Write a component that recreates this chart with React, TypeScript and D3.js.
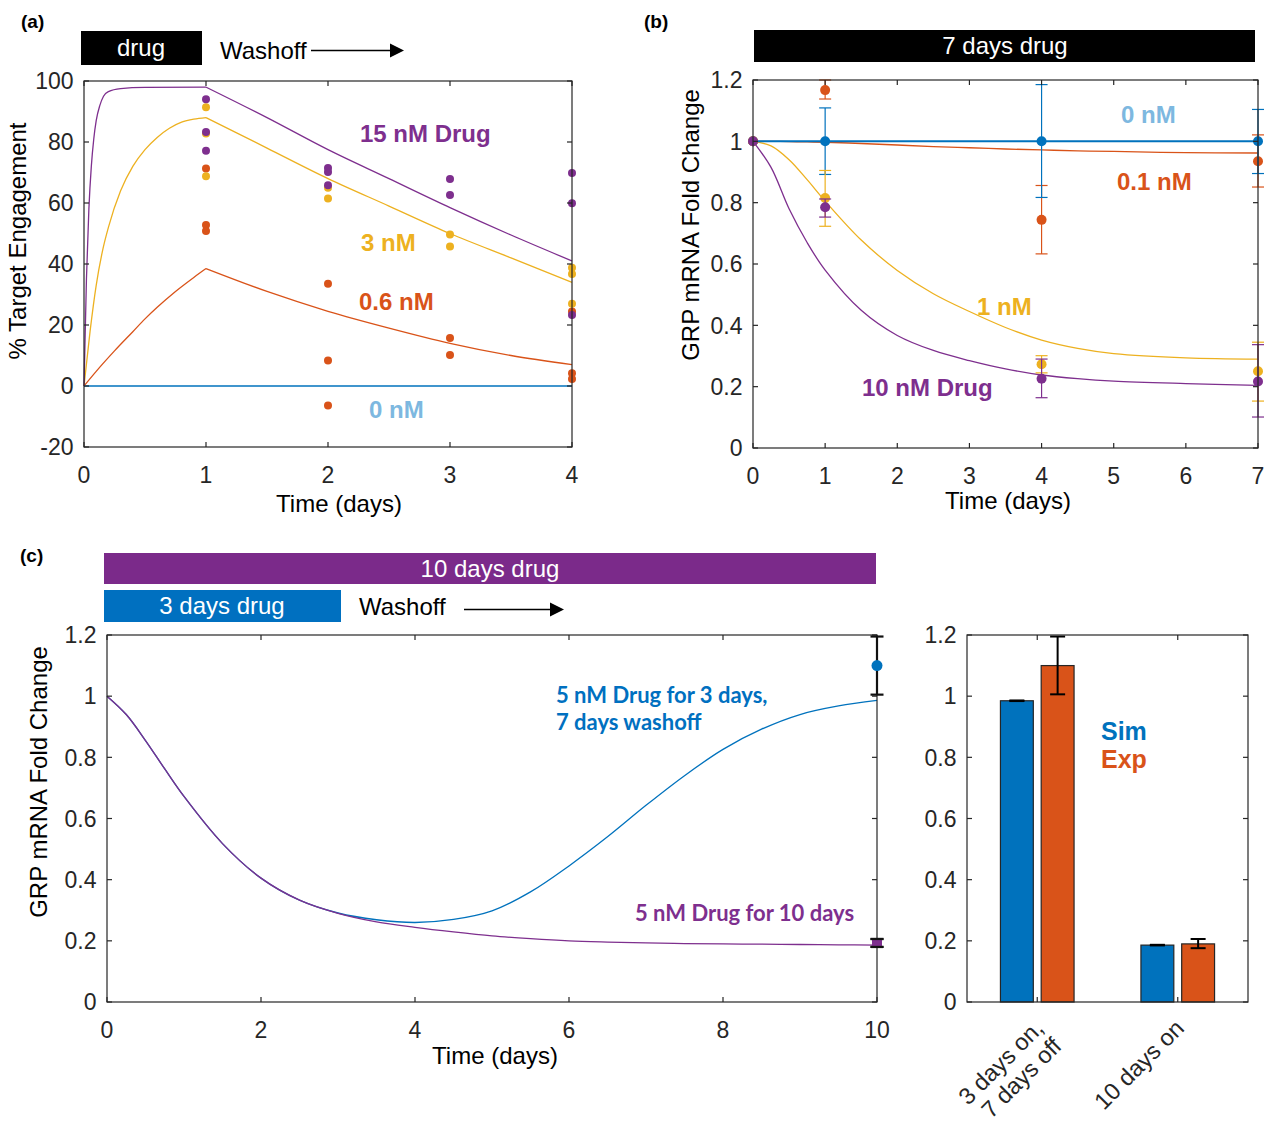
import React from 'react';
import * as d3 from 'd3';

const BLUE = '#0072BD';
const ORANGE = '#D95319';
const YELLOW = '#EDB120';
const PURPLE = '#7E2F8E';
const LIGHTBLUE = '#7DB8E0';
const BAR_PURPLE = '#7B2A8A';
const BAR_BLUE = '#0070C0';
const AX = '#262626';
const SANS = "'Liberation Sans', Arial, Helvetica, sans-serif";
const CAL = "Lato, 'Open Sans', sans-serif";

// ---------- Panel (a): % target engagement ----------
const aXTicks = [0, 1, 2, 3, 4];
const aYTicks = [-20, 0, 20, 40, 60, 80, 100];
const a15Time = [0, 0.02, 0.04, 0.06, 0.08, 0.1, 0.13, 0.16, 0.2, 0.3, 0.5, 1, 1.5, 2, 2.5, 3, 3.5, 4];
const a15Fit = [0, 35, 58, 72, 81, 87, 92, 95, 96.5, 97.5, 97.9, 98, 88, 77.5, 68, 58.5, 49.5, 41];
const a3Time = [0, 0.05, 0.1, 0.15, 0.2, 0.3, 0.4, 0.5, 0.6, 0.7, 0.8, 0.9, 1, 1.5, 2, 2.5, 3, 3.5, 4];
const a3Fit = [0, 18, 33, 44, 52, 64, 72, 77.5, 81.5, 84.5, 86.5, 87.5, 88, 78, 68, 59, 50, 42, 34];
const a06Time = [0, 0.1, 0.25, 0.4, 0.5, 0.6, 0.75, 0.9, 1, 1.5, 2, 2.5, 3, 3.5, 4];
const a06Fit = [0, 4.8, 11.5, 17.8, 22, 25.8, 31, 35.6, 38.5, 31, 24.5, 19, 14, 10, 7];
const a0Time = [0, 4];
const a0Fit = [0, 0];
const a15PtDay = [1, 1, 1, 2, 2, 2, 3, 3, 4, 4, 4];
const a15PtVal = [94, 83.3, 77.1, 71.5, 70.2, 65.8, 67.9, 62.6, 69.8, 59.9, 23.3];
const a3PtDay = [1, 1, 1, 2, 2, 3, 3, 4, 4, 4];
const a3PtVal = [91.4, 82.8, 68.8, 65, 61.5, 49.7, 45.7, 38.8, 36.7, 27];
const a06PtDay = [1, 1, 1, 2, 2, 2, 3, 3, 4, 4, 4];
const a06PtVal = [71.3, 52.8, 50.8, 33.5, 8.4, -6.4, 15.7, 10.2, 24.4, 4.2, 2.3];

// ---------- Panel (b): 7 days drug ----------
const bXTicks = [0, 1, 2, 3, 4, 5, 6, 7];
const bYTicks = [0, 0.2, 0.4, 0.6, 0.8, 1, 1.2];
const bTime = [0, 0.25, 0.5, 0.75, 1, 1.5, 2, 2.5, 3, 3.5, 4, 4.5, 5, 6, 7];
const b0Fit = [1, 1, 1, 1, 1, 1, 1, 1, 1, 1, 1, 1, 1, 1, 1];
const b01Fit = [1, 1, 0.999, 0.998, 0.997, 0.993, 0.988, 0.983, 0.979, 0.975, 0.972, 0.969, 0.967, 0.963, 0.962];
const b1Fit = [1, 0.985, 0.94, 0.875, 0.805, 0.678, 0.579, 0.503, 0.445, 0.393, 0.352, 0.325, 0.308, 0.294, 0.29];
const b10Fit = [1, 0.915, 0.78, 0.67, 0.58, 0.449, 0.367, 0.318, 0.285, 0.258, 0.238, 0.226, 0.218, 0.21, 0.204];
const bDataDay = [0, 1, 4, 7];
const b0Mean = [1, 1, 1, 1];
const b0Lo = [1, 0.892, 0.817, 0.895];
const b0Hi = [1, 1.109, 1.185, 1.104];
const b01Mean = [1, 1.167, 0.744, 0.935];
const b01Lo = [1, 1.138, 0.633, 0.851];
const b01Hi = [1, 1.2, 0.856, 1.021];
const b1Mean = [1, 0.815, 0.273, 0.25];
const b1Lo = [1, 0.723, 0.245, 0.153];
const b1Hi = [1, 0.905, 0.301, 0.345];
const b10Mean = [1, 0.785, 0.226, 0.217];
const b10Lo = [1, 0.753, 0.164, 0.101];
const b10Hi = [1, 0.812, 0.29, 0.337];

// ---------- Panel (c): 10 days vs 3 days + washoff ----------
const cXTicks = [0, 2, 4, 6, 8, 10];
const cYTicks = [0, 0.2, 0.4, 0.6, 0.8, 1, 1.2];
const cTime = [0, 0.25, 0.5, 0.75, 1, 1.5, 2, 2.5, 3, 3.5, 4, 4.5, 5, 5.5, 6, 6.5, 7, 7.5, 8, 8.5, 9, 9.5, 10];
const c10Fit = [1, 0.94, 0.855, 0.762, 0.672, 0.518, 0.405, 0.333, 0.29, 0.262, 0.244, 0.229, 0.216, 0.207, 0.2, 0.196, 0.193, 0.191, 0.19, 0.189, 0.188, 0.187, 0.186];
const c3Fit = [1, 0.94, 0.855, 0.762, 0.672, 0.518, 0.405, 0.333, 0.291, 0.269, 0.26, 0.27, 0.298, 0.36, 0.445, 0.54, 0.643, 0.74, 0.826, 0.892, 0.94, 0.968, 0.986];
const cExpDay = [10, 10];
const cExpMean = [1.10, 0.193];
const cExpLo = [1.005, 0.18];
const cExpHi = [1.195, 0.206];

// ---------- Bar panel ----------
const barCats = [['3 days on,', '7 days off'], ['10 days on']];
const barPos = [1, 2];
const barSim = [0.985, 0.186];
const barSimLo = [0.984, 0.185];
const barSimHi = [0.986, 0.187];
const barExp = [1.10, 0.19];
const barExpLo = [1.006, 0.176];
const barExpHi = [1.195, 0.206];
const barYTicks = [0, 0.2, 0.4, 0.6, 0.8, 1, 1.2];

const fmtNum = (v: number) => String(Math.round(v * 10) / 10);

function Box(props: { xs: any; ys: any; xTicks: number[]; yTicks: number[]; xLabels?: boolean }) {
  const { xs, ys, xTicks, yTicks } = props;
  const [x0, x1] = xs.range();
  const [yb, yt] = ys.range();
  const tl = 5;
  return (
    <g>
      <rect x={x0} y={yt} width={x1 - x0} height={yb - yt} fill="none" stroke={AX} strokeWidth={1.2} />
      {xTicks.map((t) => (
        <g key={'x' + t} stroke={AX} strokeWidth={1.2}>
          <line x1={xs(t)} x2={xs(t)} y1={yb} y2={yb - tl} />
          <line x1={xs(t)} x2={xs(t)} y1={yt} y2={yt + tl} />
        </g>
      ))}
      {yTicks.map((t) => (
        <g key={'y' + t} stroke={AX} strokeWidth={1.2}>
          <line x1={x0} x2={x0 + tl} y1={ys(t)} y2={ys(t)} />
          <line x1={x1} x2={x1 - tl} y1={ys(t)} y2={ys(t)} />
        </g>
      ))}
      {props.xLabels !== false &&
        xTicks.map((t) => (
          <text key={'xl' + t} x={xs(t)} y={yb + 36} textAnchor="middle" fontSize={23} fill={AX} fontFamily={SANS}>
            {fmtNum(t)}
          </text>
        ))}
      {yTicks.map((t) => (
        <text key={'yl' + t} x={x0 - 10.5} y={ys(t) + 8.2} textAnchor="end" fontSize={23} fill={AX} fontFamily={SANS}>
          {fmtNum(t)}
        </text>
      ))}
    </g>
  );
}

// Draws a fitted curve; if `peak` is given, the curve is drawn as two smooth pieces meeting at a sharp corner.
function Curve({ xs, ys, t, v, color, width = 1.3, peak, curve }: any) {
  const line = d3
    .line<[number, number]>()
    .x((d) => xs(d[0]))
    .y((d) => ys(d[1]))
    .curve(curve || d3.curveMonotoneX);
  const pts: [number, number][] = t.map((tt: number, i: number) => [tt, v[i]]);
  const pieces =
    peak === undefined
      ? [pts]
      : [pts.filter((p) => p[0] <= peak), pts.filter((p) => p[0] >= peak)];
  return (
    <g>
      {pieces.map((pc, i) => (
        <path key={i} d={line(pc) || ''} fill="none" stroke={color} strokeWidth={width} strokeLinejoin="round" />
      ))}
    </g>
  );
}

function ErrBars({ xs, ys, day, mean, lo, hi, color, r = 5, cap = 12, sw = 1.2, dotColor }: any) {
  return (
    <g>
      {day.map((d: number, i: number) =>
        hi[i] - lo[i] > 0.0001 ? (
          <g key={i} stroke={color} strokeWidth={sw}>
            <line x1={xs(d)} x2={xs(d)} y1={ys(lo[i])} y2={ys(hi[i])} />
            <line x1={xs(d) - cap / 2} x2={xs(d) + cap / 2} y1={ys(lo[i])} y2={ys(lo[i])} />
            <line x1={xs(d) - cap / 2} x2={xs(d) + cap / 2} y1={ys(hi[i])} y2={ys(hi[i])} />
          </g>
        ) : null
      )}
      {r > 0 &&
        day.map((d: number, i: number) => (
          <circle key={'c' + i} cx={xs(d)} cy={ys(mean[i])} r={r} fill={dotColor || color} />
        ))}
    </g>
  );
}

function Dots({ xs, ys, day, val, color, r = 4 }: any) {
  return (
    <g>
      {day.map((d: number, i: number) => (
        <circle key={i} cx={xs(d)} cy={ys(val[i])} r={r} fill={color} />
      ))}
    </g>
  );
}

function Arrow({ x1, x2, y }: any) {
  return (
    <g>
      <line x1={x1} x2={x2 - 12} y1={y} y2={y} stroke="#000" strokeWidth={1.5} />
      <path d={`M${x2},${y} L${x2 - 14},${y - 7} L${x2 - 14},${y + 7} Z`} fill="#000" />
    </g>
  );
}

export default function App() {
  const aX = d3.scaleLinear().domain([0, 4]).range([84, 572]);
  const aY = d3.scaleLinear().domain([-20, 100]).range([447, 81]);
  const bX = d3.scaleLinear().domain([0, 7]).range([753, 1258]);
  const bY = d3.scaleLinear().domain([0, 1.2]).range([448, 80]);
  const cX = d3.scaleLinear().domain([0, 10]).range([107, 877]);
  const cY = d3.scaleLinear().domain([0, 1.2]).range([1002, 635]);
  const dX = d3.scaleLinear().domain([0.5, 2.5]).range([967, 1248]);
  const dY = d3.scaleLinear().domain([0, 1.2]).range([1002, 635]);

  const barW = 0.234;
  const barOff = 0.145;
  const smooth = d3.curveCatmullRom.alpha(0.5);

  return (
    <svg width={1271} height={1123} style={{ position: 'absolute', left: 0, top: 0, background: '#fff' }} fontFamily={SANS}>
      <rect x={0} y={0} width={1271} height={1123} fill="#fff" />

      {/* ---------- Panel (a) ---------- */}
      <text x={21} y={28} fontSize={19} fontWeight="bold">(a)</text>
      <rect x={81} y={31} width={121} height={34} fill="#000" />
      <text x={141} y={56} fontSize={24} fill="#fff" textAnchor="middle">drug</text>
      <text x={220} y={59} fontSize={24} fill="#000">Washoff</text>
      <Arrow x1={311} x2={404} y={50.5} />

      <Curve xs={aX} ys={aY} t={a0Time} v={a0Fit} color={BLUE} />
      <Curve xs={aX} ys={aY} t={a06Time} v={a06Fit} color={ORANGE} peak={1} />
      <Curve xs={aX} ys={aY} t={a3Time} v={a3Fit} color={YELLOW} peak={1} />
      <Curve xs={aX} ys={aY} t={a15Time} v={a15Fit} color={PURPLE} peak={1} />
      <Dots xs={aX} ys={aY} day={a06PtDay} val={a06PtVal} color={ORANGE} />
      <Dots xs={aX} ys={aY} day={a3PtDay} val={a3PtVal} color={YELLOW} />
      <Dots xs={aX} ys={aY} day={a15PtDay} val={a15PtVal} color={PURPLE} />
      <Box xs={aX} ys={aY} xTicks={aXTicks} yTicks={aYTicks} />
      <text x={339} y={512} fontSize={24} textAnchor="middle" fill="#000">Time (days)</text>
      <text transform="translate(26,241) rotate(-90)" fontSize={24} textAnchor="middle" fill="#000">% Target Engagement</text>
      <text x={360} y={142} fontSize={24} fontWeight="bold" fill={PURPLE}>15 nM Drug</text>
      <text x={361} y={251} fontSize={24} fontWeight="bold" fill={YELLOW}>3 nM</text>
      <text x={359} y={310} fontSize={24} fontWeight="bold" fill={ORANGE}>0.6 nM</text>
      <text x={369} y={418} fontSize={24} fontWeight="bold" fill={LIGHTBLUE}>0 nM</text>

      {/* ---------- Panel (b) ---------- */}
      <text x={644} y={28} fontSize={19} fontWeight="bold">(b)</text>
      <rect x={754} y={30} width={501} height={32} fill="#000" />
      <text x={1005} y={54} fontSize={24} fill="#fff" textAnchor="middle">7 days drug</text>

      <Curve xs={bX} ys={bY} t={bTime} v={b01Fit} color={ORANGE} curve={smooth} />
      <Curve xs={bX} ys={bY} t={bTime} v={b1Fit} color={YELLOW} curve={smooth} />
      <Curve xs={bX} ys={bY} t={bTime} v={b10Fit} color={PURPLE} curve={smooth} />
      <Curve xs={bX} ys={bY} t={bTime} v={b0Fit} color={BLUE} width={2} />
      <ErrBars xs={bX} ys={bY} day={bDataDay} mean={b01Mean} lo={b01Lo} hi={b01Hi} color={ORANGE} r={5} />
      <ErrBars xs={bX} ys={bY} day={bDataDay} mean={b0Mean} lo={b0Lo} hi={b0Hi} color={BLUE} r={5} />
      <ErrBars xs={bX} ys={bY} day={bDataDay} mean={b1Mean} lo={b1Lo} hi={b1Hi} color={YELLOW} r={5} />
      <ErrBars xs={bX} ys={bY} day={bDataDay} mean={b10Mean} lo={b10Lo} hi={b10Hi} color={PURPLE} r={5} />
      <Box xs={bX} ys={bY} xTicks={bXTicks} yTicks={bYTicks} />
      <text x={1008} y={509} fontSize={24} textAnchor="middle" fill="#000">Time (days)</text>
      <text transform="translate(699,225) rotate(-90)" fontSize={24} textAnchor="middle" fill="#000">GRP mRNA Fold Change</text>
      <text x={1121} y={123} fontSize={24} fontWeight="bold" fill={LIGHTBLUE}>0 nM</text>
      <text x={1117} y={190} fontSize={24} fontWeight="bold" fill={ORANGE}>0.1 nM</text>
      <text x={977} y={315} fontSize={24} fontWeight="bold" fill={YELLOW}>1 nM</text>
      <text x={862} y={396} fontSize={24} fontWeight="bold" fill={PURPLE}>10 nM Drug</text>

      {/* ---------- Panel (c) ---------- */}
      <text x={20} y={562} fontSize={19} fontWeight="bold">(c)</text>
      <rect x={104} y={553} width={772} height={31} fill={BAR_PURPLE} />
      <text x={490} y={577} fontSize={24} fill="#fff" textAnchor="middle">10 days drug</text>
      <rect x={104} y={590} width={237} height={32} fill={BAR_BLUE} />
      <text x={222} y={614} fontSize={24} fill="#fff" textAnchor="middle">3 days drug</text>
      <text x={359} y={615} fontSize={24} fill="#000">Washoff</text>
      <Arrow x1={464} x2={564} y={609.5} />

      <Curve xs={cX} ys={cY} t={cTime} v={c3Fit} color={BLUE} curve={smooth} />
      <Curve xs={cX} ys={cY} t={cTime} v={c10Fit} color={PURPLE} curve={smooth} />
      <Box xs={cX} ys={cY} xTicks={cXTicks} yTicks={cYTicks} />
      <ErrBars xs={cX} ys={cY} day={cExpDay} mean={cExpMean} lo={cExpLo} hi={cExpHi} color="#111" r={0} cap={13} sw={2.2} />
      <circle cx={cX(cExpDay[0])} cy={cY(cExpMean[0])} r={5.5} fill={BLUE} />
      <rect x={cX(cExpDay[1]) - 5} y={cY(cExpHi[1])} width={10} height={cY(cExpLo[1]) - cY(cExpHi[1])} fill={PURPLE} />
      <g stroke="#111" strokeWidth={2.2}>
        <line x1={cX(10) - 6.5} x2={cX(10) + 6.5} y1={cY(cExpLo[1])} y2={cY(cExpLo[1])} />
        <line x1={cX(10) - 6.5} x2={cX(10) + 6.5} y1={cY(cExpHi[1])} y2={cY(cExpHi[1])} />
      </g>
      <text x={495} y={1064} fontSize={24} textAnchor="middle" fill="#000">Time (days)</text>
      <text transform="translate(47,782) rotate(-90)" fontSize={24} textAnchor="middle" fill="#000">GRP mRNA Fold Change</text>
      <text x={556} y={703} fontSize={22} fontWeight="bold" fill={BAR_BLUE} fontFamily={CAL}>5 nM Drug for 3 days,</text>
      <text x={556} y={730} fontSize={22} fontWeight="bold" fill={BAR_BLUE} fontFamily={CAL}>7 days washoff</text>
      <text x={635} y={921} fontSize={22} fontWeight="bold" fill={PURPLE} fontFamily={CAL}>5 nM Drug for 10 days</text>

      {/* ---------- Bar panel ---------- */}
      {barPos.map((p, i) => (
        <g key={'bar' + i}>
          <rect x={dX(p - barOff - barW / 2)} y={dY(barSim[i])} width={dX(barW) - dX(0)} height={dY(0) - dY(barSim[i])} fill={BLUE} stroke={AX} strokeWidth={1.2} />
          <rect x={dX(p + barOff - barW / 2)} y={dY(barExp[i])} width={dX(barW) - dX(0)} height={dY(0) - dY(barExp[i])} fill={ORANGE} stroke={AX} strokeWidth={1.2} />
        </g>
      ))}
      {barPos.map((p, i) => (
        <g key={'err' + i} stroke="#000" strokeWidth={2}>
          <line x1={dX(p - barOff)} x2={dX(p - barOff)} y1={dY(barSimLo[i])} y2={dY(barSimHi[i])} />
          <line x1={dX(p - barOff) - 7.5} x2={dX(p - barOff) + 7.5} y1={dY(barSimLo[i])} y2={dY(barSimLo[i])} />
          <line x1={dX(p - barOff) - 7.5} x2={dX(p - barOff) + 7.5} y1={dY(barSimHi[i])} y2={dY(barSimHi[i])} />
          <line x1={dX(p + barOff)} x2={dX(p + barOff)} y1={dY(barExpLo[i])} y2={dY(barExpHi[i])} />
          <line x1={dX(p + barOff) - 7.5} x2={dX(p + barOff) + 7.5} y1={dY(barExpLo[i])} y2={dY(barExpLo[i])} />
          <line x1={dX(p + barOff) - 7.5} x2={dX(p + barOff) + 7.5} y1={dY(barExpHi[i])} y2={dY(barExpHi[i])} />
        </g>
      ))}
      <Box xs={dX} ys={dY} xTicks={barPos} yTicks={barYTicks} xLabels={false} />
      {barPos.map((p, i) =>
        barCats[i].map((ln, j) => (
          <text
            key={'cat' + i + j}
            transform={`translate(${dX(p) + 2 + j * 18},${1024 + j * 18}) rotate(-45)`}
            fontSize={23.5}
            textAnchor="end"
            dominantBaseline="central"
            fill={AX}
          >
            {ln}
          </text>
        ))
      )}
      <text x={1101} y={740} fontSize={25} fontWeight="bold" fill={BLUE}>Sim</text>
      <text x={1101} y={768} fontSize={25} fontWeight="bold" fill={ORANGE}>Exp</text>
    </svg>
  );
}
